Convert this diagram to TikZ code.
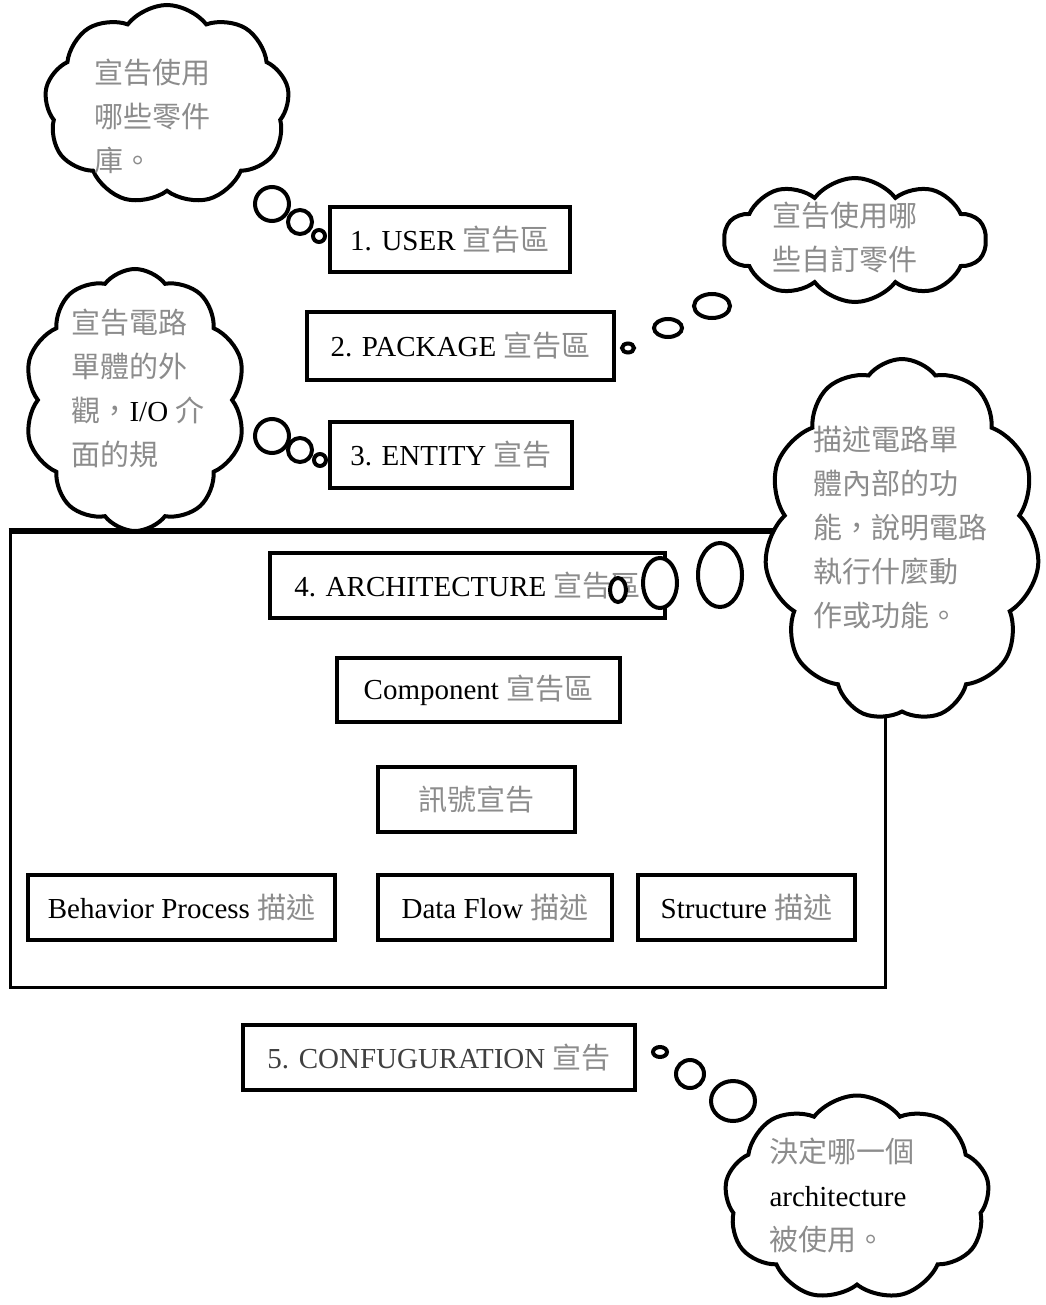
\documentclass[tikz,border=0pt]{standalone}
\usepackage{fontspec}
\setmainfont{Liberation Serif}
\newfontfamily\cjkfont{Noto Sans CJK TC}
\usetikzlibrary{shapes.symbols,shapes.geometric}
\definecolor{cjkgray}{gray}{0.55}
\newcommand\zh[1]{{\cjkfont\color{cjkgray}#1}}
\begin{document}
\begin{tikzpicture}[x=1pt,y=-1pt,
  txt/.style={font=\fontsize{29}{44}\selectfont, inner sep=0pt},
  blk/.style={txt, draw, line width=4pt, fill=white, align=center},
  thought/.style={cloud, cloud puffs=9, cloud puff arc=105, cloud ignores aspect, draw, line width=4pt, fill=white, inner sep=0pt},
  bub/.style={ellipse, draw, line width=4pt, fill=white, inner sep=0pt}
]
\useasboundingbox (0,0) rectangle (1045,1305);
\fill[white] (0,0) rectangle (1045,1305);

% big architecture frame
\node[draw, line width=3pt, minimum width=875, minimum height=455, inner sep=0pt] (frame) at (447.5,759.5) {};
\draw[line width=6pt] (frame.north west) -- (frame.north east);

% boxes
\node[blk, minimum width=240, minimum height=65] (user) at (450,240) {1. USER \zh{宣告區}};
\node[blk, minimum width=307, minimum height=68] (pkg) at (460.5,346) {2. PACKAGE \zh{宣告區}};
\node[blk, minimum width=242, minimum height=66] (ent) at (451,455) {3. ENTITY \zh{宣告}};
\node[blk, minimum width=395, minimum height=65] (arch) at (467.5,585.5) {4. ARCHITECTURE \zh{宣告區}};
\node[blk, minimum width=283, minimum height=64] (comp) at (478.5,690) {Component \zh{宣告區}};
\node[blk, minimum width=197, minimum height=65] (sig) at (476.5,799.5) {\zh{訊號宣告}};
\node[blk, minimum width=307, minimum height=65] (beh) at (181.5,907.5) {Behavior Process \zh{描述}};
\node[blk, minimum width=234, minimum height=65] (df) at (495,907.5) {Data Flow \zh{描述}};
\node[blk, minimum width=217, minimum height=65] (st) at (746.5,907.5) {Structure \zh{描述}};
\node[blk, minimum width=392, minimum height=65] (conf) at (439,1057.5) {{\color{black!75}5. CONFUGURATION} \zh{宣告}};

% clouds
\node[thought, cloud puffs=9, minimum width=245, minimum height=200] (c1) at (167,105) {};
\node[txt, align=left] (t1) at (152,116) {\zh{宣告使用}\\\zh{哪些零件}\\\zh{庫。}};
\node[thought, cloud puffs=10, minimum width=262, minimum height=124] (c2) at (855,240) {};
\node[txt, align=left] (t2) at (845,237) {\zh{宣告使用哪}\\\zh{些自訂零件}};
\node[thought, cloud puffs=10, minimum width=222, minimum height=262] (c3) at (135,400) {};
\node[txt, align=left] (t3) at (138,388) {\zh{宣告電路}\\\zh{單體的外}\\\zh{觀，}I/O \zh{介}\\\zh{面的規}};
\node[thought, cloud puffs=11, minimum width=275, minimum height=362] (c4) at (902,540) {};
\node[txt, align=left] (t4) at (900,527) {\zh{描述電路單}\\\zh{體內部的功}\\\zh{能，說明電路}\\\zh{執行什麼動}\\\zh{作或功能。}};
\node[thought, cloud puffs=9, minimum width=265, minimum height=205] (c5) at (857,1198) {};
\node[txt, align=left] (t5) at (842,1195) {\zh{決定哪一個}\\architecture\\\zh{被使用。}};

% thought bubbles
\node[bub, minimum width=34, minimum height=34] (b1a) at (272,204) {};
\node[bub, minimum width=24, minimum height=24] (b1b) at (300,222) {};
\node[bub, minimum width=12, minimum height=12] (b1c) at (319,236) {};

\node[bub, minimum width=12, minimum height=9] (b2a) at (628,348) {};
\node[bub, minimum width=28, minimum height=18] (b2b) at (668,328) {};
\node[bub, minimum width=36, minimum height=24] (b2c) at (712,306) {};

\node[bub, minimum width=34, minimum height=34] (b3a) at (272,436) {};
\node[bub, minimum width=24, minimum height=24] (b3b) at (300,450) {};
\node[bub, minimum width=12, minimum height=12] (b3c) at (320,460) {};

\node[bub, minimum width=16, minimum height=24] (b4a) at (618,590) {};
\node[bub, minimum width=34, minimum height=50] (b4b) at (660,583) {};
\node[bub, minimum width=44, minimum height=64] (b4c) at (720,575) {};

\node[bub, minimum width=14, minimum height=10] (b5a) at (660,1052) {};
\node[bub, minimum width=28, minimum height=28] (b5b) at (690,1074) {};
\node[bub, minimum width=44, minimum height=40] (b5c) at (733,1101) {};
\end{tikzpicture}
\end{document}
